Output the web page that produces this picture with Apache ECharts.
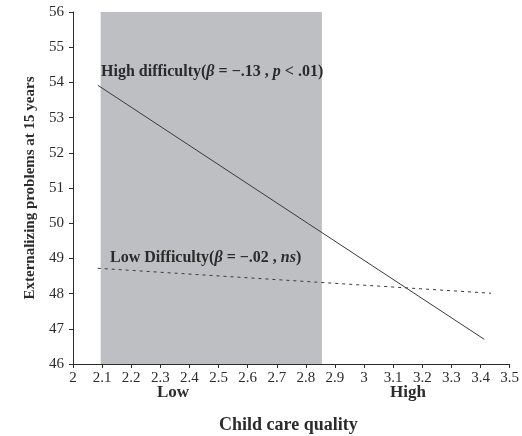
<!DOCTYPE html>
<html>
<head>
<meta charset="utf-8">
<script src="https://cdn.jsdelivr.net/npm/echarts@6/dist/echarts.min.js"></script>
<style>
  html, body { margin: 0; padding: 0; background: #fff; }
  #chart { width: 522px; height: 436px; }
</style>
</head>
<body>
<div id="chart"></div>
<script>
// data
const xTicks = [2, 2.1, 2.2, 2.3, 2.4, 2.5, 2.6, 2.7, 2.8, 2.9, 3, 3.1, 3.2, 3.3, 3.4, 3.5]
const yTicks = [46, 47, 48, 49, 50, 51, 52, 53, 54, 55, 56]
const highDifficulty = [[2.085, 53.92], [3.413, 46.70]]
const lowDifficulty = [[2.085, 48.72], [3.436, 48.01]]
const shadeRange = [2.095, 2.855]

const serif = '"Liberation Serif", "DejaVu Serif", serif'
const ink = '#2b2b2b'

const chart = echarts.init(document.getElementById('chart'), null, { renderer: 'canvas' })

const rich = {
  b: { fontFamily: serif, fontSize: 16, fontWeight: 'bold', fill: ink },
  i: { fontFamily: serif, fontSize: 16, fontWeight: 'bold', fontStyle: 'italic', fill: ink }
}

chart.setOption({
  backgroundColor: '#fff',
  animation: false,
  grid: { left: 73, right: 11, top: 12, bottom: 72 },
  xAxis: {
    type: 'value', min: xTicks[0], max: xTicks[xTicks.length - 1], interval: 0.1,
    axisLine: { lineStyle: { color: ink, width: 1 } },
    axisTick: { show: true, length: 4, lineStyle: { color: ink } },
    axisLabel: { color: ink, fontFamily: serif, fontSize: 15, margin: 7,
      formatter: v => String(+v.toFixed(1)) },
    splitLine: { show: false }
  },
  yAxis: {
    type: 'value', min: yTicks[0], max: yTicks[yTicks.length - 1], interval: 1,
    axisLine: { show: true, lineStyle: { color: ink, width: 1 } },
    axisTick: { show: true, length: 4, lineStyle: { color: ink } },
    axisLabel: { color: ink, fontFamily: serif, fontSize: 15, margin: 9 },
    splitLine: { show: false },
    name: 'Externalizing problems at 15 years',
    nameLocation: 'middle', nameGap: 35, nameRotate: 90,
    nameTextStyle: { color: ink, fontFamily: serif, fontSize: 15, fontWeight: 'bold' }
  },
  series: [
    {
      name: 'High difficulty', type: 'line', data: highDifficulty, symbol: 'none',
      lineStyle: { color: '#3a3a3a', width: 1 }, z: 3,
      markArea: {
        silent: true,
        itemStyle: { color: '#bebfc3' },
        data: [[{ xAxis: shadeRange[0], yAxis: yTicks[0] }, { xAxis: shadeRange[1], yAxis: yTicks[yTicks.length - 1] }]]
      }
    },
    {
      name: 'Low difficulty', type: 'line', data: lowDifficulty, symbol: 'none',
      lineStyle: { color: '#3a3a3a', width: 1, type: [3, 4] }, z: 3
    }
  ],
  graphic: [
    {
      type: 'text', left: 101, top: 64, z: 10,
      style: { text: '{b|High difficulty(}{i|β}{b| = −.13 , }{i|p}{b| < .01)}', rich }
    },
    {
      type: 'text', left: 110, top: 250, z: 10,
      style: { text: '{b|Low Difficulty(}{i|β}{b| = −.02 , }{i|ns}{b|)}', rich }
    },
    {
      type: 'text', left: 157, top: 384, z: 10,
      style: { text: 'Low', fontFamily: serif, fontSize: 17, fontWeight: 'bold', fill: ink }
    },
    {
      type: 'text', left: 390, top: 384, z: 10,
      style: { text: 'High', fontFamily: serif, fontSize: 17, fontWeight: 'bold', fill: ink }
    },
    {
      type: 'text', left: 219, top: 416, z: 10,
      style: { text: 'Child care quality', fontFamily: serif, fontSize: 18, fontWeight: 'bold', fill: ink }
    }
  ]
})

window.addEventListener('resize', () => chart.resize())
</script>
</body>
</html>
